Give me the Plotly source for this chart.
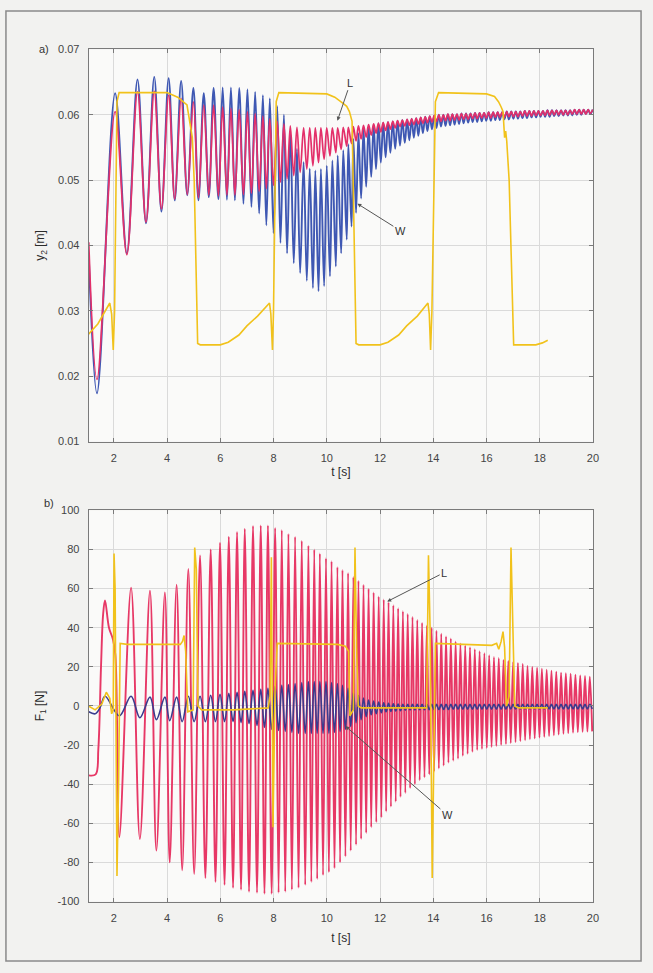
import plotly.graph_objects as go

# ================= panel a): y2 [m] =================
# times of troughs (lo) and following crests (hi) of the oscillations
ta_lo = [1.37, 2.49, 3.21, 3.79, 4.29, 4.76, 5.18, 5.57, 5.93, 6.25, 6.55, 6.87, 7.17, 7.46, 7.73,
         8.00, 8.26, 8.51, 8.76, 9.00, 9.25, 9.48, 9.69, 9.90, 10.12, 10.34, 10.54, 10.75, 10.93,
         11.10, 11.29, 11.48, 11.67, 11.85, 12.03, 12.21, 12.39, 12.57, 12.75, 12.93, 13.10, 13.27,
         13.44, 13.61, 13.78, 13.95, 14.12, 14.29, 14.46, 14.63, 14.80, 14.97, 15.14, 15.31, 15.48,
         15.65, 15.82, 15.99, 16.16, 16.33, 16.50, 16.67, 16.84, 17.01, 17.18, 17.35, 17.52, 17.69,
         17.86, 18.03, 18.20, 18.37, 18.54, 18.71, 18.88, 19.05, 19.22, 19.39, 19.56, 19.73, 19.90]
ta_hi = [2.05, 2.89, 3.52, 4.06, 4.53, 4.99, 5.38, 5.75, 6.09, 6.40, 6.71, 7.02, 7.31, 7.60, 7.86,
         8.14, 8.39, 8.63, 8.88, 9.13, 9.36, 9.57, 9.78, 10.00, 10.21, 10.41, 10.62, 10.81, 11.00,
         11.19, 11.38, 11.57, 11.76, 11.94, 12.12, 12.30, 12.48, 12.66, 12.84, 13.02, 13.19, 13.36,
         13.53, 13.70, 13.87, 14.04, 14.21, 14.38, 14.55, 14.72, 14.89, 15.06, 15.23, 15.40, 15.57,
         15.74, 15.91, 16.08, 16.25, 16.42, 16.59, 16.76, 16.93, 17.10, 17.27, 17.44, 17.61, 17.78,
         17.95, 18.12, 18.29, 18.46, 18.63, 18.80, 18.97, 19.14, 19.31, 19.48, 19.65, 19.82, 19.99]

# W (blue) extremes
wa_lo = [0.0174, 0.0388, 0.0434, 0.0452, 0.0469, 0.0477, 0.0469, 0.0474, 0.0471, 0.0470, 0.0469,
         0.0464, 0.0459, 0.0449, 0.0431, 0.0419, 0.0404, 0.0388, 0.0373, 0.0358, 0.0346, 0.0335,
         0.0330, 0.0338, 0.0353, 0.0368, 0.0388, 0.0409, 0.0429,
         0.0450, 0.0472, 0.0490, 0.0505, 0.0517, 0.0527, 0.0535, 0.0542, 0.0548, 0.0553, 0.0557,
         0.0561, 0.0565, 0.0568, 0.0572, 0.0575, 0.0578, 0.0580, 0.0582, 0.0583, 0.0584, 0.0585,
         0.0586, 0.0587, 0.0588, 0.0589, 0.0589, 0.0590, 0.0591, 0.0591, 0.0592, 0.0592, 0.0593,
         0.0593, 0.0594, 0.0594, 0.0595, 0.0595, 0.0596, 0.0596, 0.0597, 0.0597, 0.0597, 0.0598,
         0.0598, 0.0599, 0.0599, 0.0599, 0.0600, 0.0600, 0.0601, 0.0601]
wa_hi = [0.0633, 0.0654, 0.0658, 0.0656, 0.0652, 0.0641, 0.0633, 0.0641, 0.0642, 0.0642, 0.0641,
         0.0639, 0.0635, 0.0630, 0.0625, 0.0613, 0.0600, 0.0575, 0.0548, 0.0528, 0.0518, 0.0515,
         0.0517, 0.0522, 0.0530, 0.0538, 0.0546, 0.0555, 0.0563,
         0.0572, 0.0578, 0.0582, 0.0585, 0.0587, 0.0588, 0.0589, 0.0590, 0.0591, 0.0592, 0.0593,
         0.0594, 0.0595, 0.0596, 0.0597, 0.0598, 0.0599, 0.0600, 0.0600, 0.0601, 0.0601, 0.0601,
         0.0602, 0.0602, 0.0602, 0.0603, 0.0603, 0.0603, 0.0604, 0.0604, 0.0604, 0.0604, 0.0605,
         0.0605, 0.0605, 0.0605, 0.0606, 0.0606, 0.0606, 0.0606, 0.0606, 0.0607, 0.0607, 0.0607,
         0.0607, 0.0607, 0.0607, 0.0608, 0.0608, 0.0608, 0.0608, 0.0608]
wa_head_t = [1.06]
wa_head_v = [0.0385]

# L (red) extremes
la_lo = [0.0195, 0.0386, 0.0436, 0.0456, 0.0471, 0.0478, 0.0473, 0.0477, 0.0476, 0.0477, 0.0477,
         0.0478, 0.0480, 0.0483, 0.0487, 0.0492, 0.0497, 0.0502, 0.0507, 0.0512, 0.0517, 0.0522,
         0.0527, 0.0532, 0.0537, 0.0542, 0.0547, 0.0552, 0.0556,
         0.0560, 0.0563, 0.0566, 0.0569, 0.0572, 0.0574, 0.0576, 0.0578, 0.0580, 0.0582, 0.0583,
         0.0584, 0.0585, 0.0586, 0.0587, 0.0588, 0.0589, 0.0590, 0.0590, 0.0591, 0.0591, 0.0592,
         0.0592, 0.0593, 0.0593, 0.0594, 0.0594, 0.0595, 0.0595, 0.0595, 0.0596, 0.0596, 0.0596,
         0.0597, 0.0597, 0.0597, 0.0598, 0.0598, 0.0598, 0.0599, 0.0599, 0.0599, 0.0599, 0.0600,
         0.0600, 0.0600, 0.0600, 0.0601, 0.0601, 0.0601, 0.0601, 0.0602]
la_hi = [0.0605, 0.0635, 0.0636, 0.0630, 0.0625, 0.0620, 0.0615, 0.0615, 0.0612, 0.0610, 0.0608,
         0.0605, 0.0602, 0.0598, 0.0594, 0.0590, 0.0586, 0.0583, 0.0581, 0.0580, 0.0580, 0.0580,
         0.0580, 0.0580, 0.0580, 0.0580, 0.0581, 0.0581, 0.0582,
         0.0583, 0.0584, 0.0585, 0.0586, 0.0587, 0.0588, 0.0589, 0.0590, 0.0591, 0.0592, 0.0593,
         0.0594, 0.0595, 0.0596, 0.0597, 0.0598, 0.0599, 0.0600, 0.0600, 0.0601, 0.0601, 0.0601,
         0.0602, 0.0602, 0.0602, 0.0603, 0.0603, 0.0603, 0.0604, 0.0604, 0.0604, 0.0604, 0.0605,
         0.0605, 0.0605, 0.0605, 0.0606, 0.0606, 0.0606, 0.0606, 0.0606, 0.0607, 0.0607, 0.0607,
         0.0607, 0.0607, 0.0607, 0.0608, 0.0608, 0.0608, 0.0608, 0.0608]
la_head_t = [1.06]
la_head_v = [0.0405]

# yellow curve, panel a)
ya_t = [1.00, 1.40, 1.85, 1.92, 1.98, 2.03, 2.12, 2.20, 4.00, 4.40, 4.75, 4.88, 4.95, 5.02, 5.15,
        5.25, 6.00, 6.30, 6.70, 7.00, 7.40, 7.85, 7.90, 7.96, 8.00, 8.10, 8.20, 10.00, 10.30, 10.60,
        10.75, 10.85, 10.95, 11.10, 11.20, 12.00, 12.30, 12.70, 13.00, 13.40, 13.80, 13.85, 13.90,
        13.95, 14.08, 14.20, 16.00, 16.30, 16.45, 16.55, 16.62, 16.68, 16.72, 16.76, 16.85, 17.02,
        17.85, 18.10, 18.30]
ya_v = [0.0262, 0.0280, 0.0312, 0.0295, 0.0240, 0.0300, 0.0620, 0.0634, 0.0634, 0.0627, 0.0615,
        0.0585, 0.0565, 0.0500, 0.0250, 0.0248, 0.0248, 0.0252, 0.0263, 0.0277, 0.0292, 0.0312,
        0.0295, 0.0240, 0.0300, 0.0620, 0.0634, 0.0632, 0.0627, 0.0618, 0.0613, 0.0605, 0.0590,
        0.0250, 0.0248, 0.0248, 0.0252, 0.0263, 0.0277, 0.0292, 0.0312, 0.0295, 0.0240, 0.0300,
        0.0620, 0.0634, 0.0632, 0.0628, 0.0620, 0.0612, 0.0605, 0.0565, 0.0575, 0.0560, 0.0500,
        0.0248, 0.0248, 0.0251, 0.0255]

# ================= panel b): F1 [N] =================
tb_hi = [1.67, 2.65, 3.36, 3.92, 4.36, 4.80, 5.24, 5.64, 5.99, 6.32, 6.63, 6.92, 7.23, 7.52, 7.79,
         8.06, 8.31, 8.56, 8.81, 9.06, 9.31, 9.53, 9.74, 9.97, 10.18, 10.40, 10.59, 10.80, 11.00,
         11.19, 11.38, 11.57, 11.76, 11.95, 12.14, 12.32, 12.50, 12.68, 12.86, 13.04, 13.22, 13.40,
         13.58, 13.76, 13.94, 14.12, 14.30, 14.48, 14.66, 14.84, 15.02, 15.20, 15.38, 15.56, 15.74,
         15.92, 16.10, 16.28, 16.46, 16.64, 16.82, 17.00, 17.18, 17.36, 17.54, 17.72, 17.90, 18.08,
         18.26, 18.44, 18.62, 18.80, 18.98, 19.16, 19.34, 19.52, 19.70, 19.88]
tb_lo = [2.21, 2.98, 3.60, 4.10, 4.57, 5.02, 5.44, 5.82, 6.16, 6.48, 6.78, 7.08, 7.38, 7.66, 7.93,
         8.19, 8.44, 8.69, 8.94, 9.19, 9.42, 9.64, 9.86, 10.08, 10.29, 10.50, 10.70, 10.90, 11.10,
         11.29, 11.48, 11.67, 11.86, 12.05, 12.23, 12.41, 12.59, 12.77, 12.95, 13.13, 13.31, 13.49,
         13.67, 13.85, 14.03, 14.21, 14.39, 14.57, 14.75, 14.93, 15.11, 15.29, 15.47, 15.65, 15.83,
         16.01, 16.19, 16.37, 16.55, 16.73, 16.91, 17.09, 17.27, 17.45, 17.63, 17.81, 17.99, 18.17,
         18.35, 18.53, 18.71, 18.89, 19.07, 19.25, 19.43, 19.61, 19.79, 19.97]

lb_hi = [54, 60.5, 59, 58, 62, 70, 77, 80, 83.5, 86.5, 89, 90.7, 92, 92.3, 92.3, 91, 90, 88, 86.5,
         84.5, 82, 80, 78, 75.5, 74, 71, 69.5, 68, 66,
         64, 62, 60, 58, 56, 54.5, 53, 51.5, 50, 48.5, 47, 45.5, 44, 42.5, 41, 40, 38.5, 37, 35.5,
         34.5, 33, 32, 31, 30, 29, 28, 27, 26, 25, 24.5, 23.5, 23, 22.5, 22, 21.5, 20.5, 20, 19.5,
         19, 18.5, 18, 17.5, 17, 16.8, 16.5, 16, 15.6, 15.3, 15]
lb_lo = [-67, -68, -74, -80, -84, -86, -88, -90, -91.5, -93, -94, -95, -95.5, -96, -96, -95.5, -95,
         -94, -93, -91.5, -90, -88.5, -86.5, -85, -83, -80, -77, -74, -71,
         -68, -65, -62, -59.5, -57, -54, -51.5, -49, -46.5, -44.5, -42, -40, -38, -36.5, -35, -33.5,
         -32, -30.5, -29, -28, -27, -25.5, -24.5, -23.5, -22.5, -22, -21.5, -21, -20.5, -20, -19.5,
         -19, -18.5, -18, -17.5, -17, -16.6, -16.2, -15.8, -15.4, -15, -14.6, -14.2, -13.9, -13.6,
         -13.4, -13.2, -13.1, -13]
lb_head_t = [1.06, 1.32, 1.42, 1.52, 1.60, 1.82, 1.97, 2.06]
lb_head_v = [-35.5, -35, -22, 20, 47, 40, 34, 26]

wb_hi = [5, 5, 4.5, 4.5, 4.5, 5, 5, 5.5, 6, 6.5, 7, 7.5, 8, 8.5, 9, 10, 10.5, 11, 11.5, 12, 12.5,
         12.5, 12.5, 12.5, 12, 11.5, 10.5, 9, 7,
         5.5, 4, 3, 2.5, 2, 1.6, 1.3, 1.1, 1.0, 0.9, 0.8, 0.8, 0.8, 0.8, 0.8, 0.8, 0.8, 0.8, 0.8,
         0.8, 0.8, 0.8, 0.8, 0.8, 0.8, 0.8, 0.8, 0.8, 0.8, 0.8, 0.8, 0.8, 0.8, 0.8, 0.8, 0.8, 0.8,
         0.8, 0.8, 0.8, 0.8, 0.8, 0.8, 0.8, 0.8, 0.8, 0.8, 0.8, 0.8]
wb_lo = [-5, -6, -7, -7.5, -8, -8, -8, -8, -8, -8, -8.5, -9, -10, -11, -12, -12.5, -13, -13.5,
         -14, -14, -14, -14, -14, -14, -13.5, -13, -12, -10.5, -8.5,
         -7, -5.5, -4.5, -4, -3.5, -3, -2.8, -2.6, -2.4, -2.2, -2.0, -2.0, -1.9, -1.9, -1.9, -1.8,
         -1.8, -1.8, -1.8, -1.7, -1.7, -1.7, -1.7, -1.7, -1.6, -1.6, -1.6, -1.6, -1.6, -1.6, -1.6,
         -1.5, -1.5, -1.5, -1.5, -1.5, -1.5, -1.5, -1.5, -1.5, -1.5, -1.5, -1.5, -1.5, -1.5, -1.5,
         -1.5, -1.5, -1.5]
wb_head_t = [1.06, 1.30, 1.48]
wb_head_v = [-3, -4, -1]

yb_t = [1.05, 1.30, 1.55, 1.72, 1.85, 1.92, 1.98, 2.01, 2.05, 2.12, 2.18, 2.24, 2.50, 4.50, 4.58,
        4.64, 4.70, 4.78, 4.98, 5.04, 5.10, 5.16, 5.30, 6.50, 7.80, 7.87, 7.92, 7.98, 8.06, 8.14,
        10.40, 10.70, 10.82, 10.87, 11.00, 11.06, 11.12, 11.18, 11.30, 13.75, 13.82, 13.88, 13.96,
        14.02, 14.08, 16.20, 16.38, 16.46, 16.55, 16.62, 16.68, 16.75, 16.85, 16.92, 17.00, 17.06,
        17.20, 18.30]
yb_v = [0, -2, 1, 7, 4, -4, -2, 78, 60, -87, -40, 32, 31.5, 31.5, 33, 36, 28, -3, -2, 81, 70, 0,
        -2, -2, -1, 5, 76, -62, 10, 32, 31.5, 30.5, 28, -5, -2, 81, 30, 0, -1, -1, 77, 40, -88,
        -20, 32, 31, 32, 29, 33, 38, 30, 0, 5, 81, 40, 0, -1, -1]

x_ticks = [2, 4, 6, 8, 10, 12, 14, 16, 18, 20]
ya_ticks = [0.01, 0.02, 0.03, 0.04, 0.05, 0.06, 0.07]
ya_labels = ["0.01", "0.02", "0.03", "0.04", "0.05", "0.06", "0.07"]
yb_ticks = [-100, -80, -60, -40, -20, 0, 20, 40, 60, 80, 100]
yb_labels = ["-100", "-80", "-60", "-40", "-20", "0", "20", "40", "60", "80", "100"]


def merged(*parts):
    pts = []
    for ts, vs in parts:
        n = min(len(ts), len(vs))
        pts += list(zip(ts[:n], vs[:n]))
    pts.sort(key=lambda p: p[0])
    return [p[0] for p in pts], [p[1] for p in pts]


C_W = "#3f58b3"
C_Wb = "#3a3c8e"
C_L = "#e3306a"
C_Lb = "#e73866"
C_Y = "#f1c21b"

fig = go.Figure()

x, y = merged((wa_head_t, wa_head_v), (ta_lo, wa_lo), (ta_hi, wa_hi))
fig.add_trace(go.Scatter(x=x, y=y, mode="lines", line=dict(color=C_W, width=1.9, shape="spline"),
                         xaxis="x", yaxis="y", name="W"))
x, y = merged((la_head_t, la_head_v), (ta_lo, la_lo), (ta_hi, la_hi))
fig.add_trace(go.Scatter(x=x, y=y, mode="lines", line=dict(color=C_L, width=1.7, shape="spline"),
                         xaxis="x", yaxis="y", name="L"))
fig.add_trace(go.Scatter(x=ya_t, y=ya_v, mode="lines", line=dict(color=C_Y, width=1.6),
                         xaxis="x", yaxis="y", name="y"))

x, y = merged((lb_head_t, lb_head_v), (tb_hi, lb_hi), (tb_lo, lb_lo))
fig.add_trace(go.Scatter(x=x, y=y, mode="lines", line=dict(color=C_Lb, width=1.9, shape="spline"),
                         xaxis="x2", yaxis="y2", name="L"))
x, y = merged((wb_head_t, wb_head_v), (tb_hi, wb_hi), (tb_lo, wb_lo))
fig.add_trace(go.Scatter(x=x, y=y, mode="lines", line=dict(color=C_Wb, width=1.6, shape="spline"),
                         xaxis="x2", yaxis="y2", name="W"))
fig.add_trace(go.Scatter(x=yb_t, y=yb_v, mode="lines", line=dict(color=C_Y, width=1.6),
                         xaxis="x2", yaxis="y2", name="y"))

W, H = 653, 973
XD = [89.5 / W, 598.5 / W]
YD_A = [1 - 441 / H, 1 - 44 / H]
YD_B = [1 - 906.7 / H, 1 - 510.7 / H]

FONT = "Arial, Liberation Sans, sans-serif"
tickfont = dict(family=FONT, size=11, color="#444")
titlefont = dict(family=FONT, size=12, color="#2b2b2b")

common = dict(showgrid=True, gridcolor="#dadada", gridwidth=1, zeroline=False,
              showline=True, linecolor="#7a7a7a", linewidth=1, mirror="ticks",
              ticks="inside", ticklen=4, tickcolor="#7a7a7a", tickfont=tickfont,
              ticklabelstandoff=6)

fig.update_layout(
    width=W, height=H,
    margin=dict(l=0, r=0, t=0, b=0),
    paper_bgcolor="#f2f2f0",
    plot_bgcolor="#fafaf9",
    showlegend=False,
    xaxis=dict(domain=XD, anchor="y", range=[1.057, 20], tickvals=x_ticks,
               title=dict(text="t [s]", font=titlefont, standoff=4), **common),
    yaxis=dict(domain=YD_A, anchor="x", range=[0.01, 0.07], tickvals=ya_ticks, ticktext=ya_labels,
               title=dict(text="y<sub>2</sub> [m]", font=titlefont, standoff=10), **common),
    xaxis2=dict(domain=XD, anchor="y2", range=[1.057, 20], tickvals=x_ticks,
                title=dict(text="t [s]", font=titlefont, standoff=10), **common),
    yaxis2=dict(domain=YD_B, anchor="x2", range=[-100, 100], tickvals=yb_ticks, ticktext=yb_labels,
                title=dict(text="F<sub>1</sub> [N]", font=titlefont, standoff=10), **common),
)

arrow = dict(showarrow=True, arrowhead=2, arrowsize=0.8, arrowwidth=1, arrowcolor="#555",
             font=dict(family=FONT, size=11, color="#333"))
fig.add_annotation(x=10.40, y=0.0591, xref="x", yref="y", text="L", ax=13, ay=-38, **arrow)
fig.add_annotation(x=11.15, y=0.0464, xref="x", yref="y", text="W", ax=43, ay=27, **arrow)
fig.add_annotation(x=12.27, y=53.4, xref="x2", yref="y2", text="L", ax=57, ay=-29, **arrow)
fig.add_annotation(x=10.70, y=-10.3, xref="x2", yref="y2", text="W", ax=102, ay=89, **arrow)

fig.add_annotation(x=37 / W, y=1 - 35 / H, xref="paper", yref="paper", text="a)", showarrow=False,
                   font=dict(family=FONT, size=11, color="#333"))
fig.add_annotation(x=42 / W, y=1 - 503 / H, xref="paper", yref="paper", text="b)", showarrow=False,
                   font=dict(family=FONT, size=11, color="#333"))

fig.add_shape(type="rect", xref="paper", yref="paper", x0=6 / W, x1=647 / W, y0=1 - 967 / H,
              y1=1 - 5 / H, line=dict(color="#8a8a8a", width=1.5), layer="below")

fig.write_html("out.html")
